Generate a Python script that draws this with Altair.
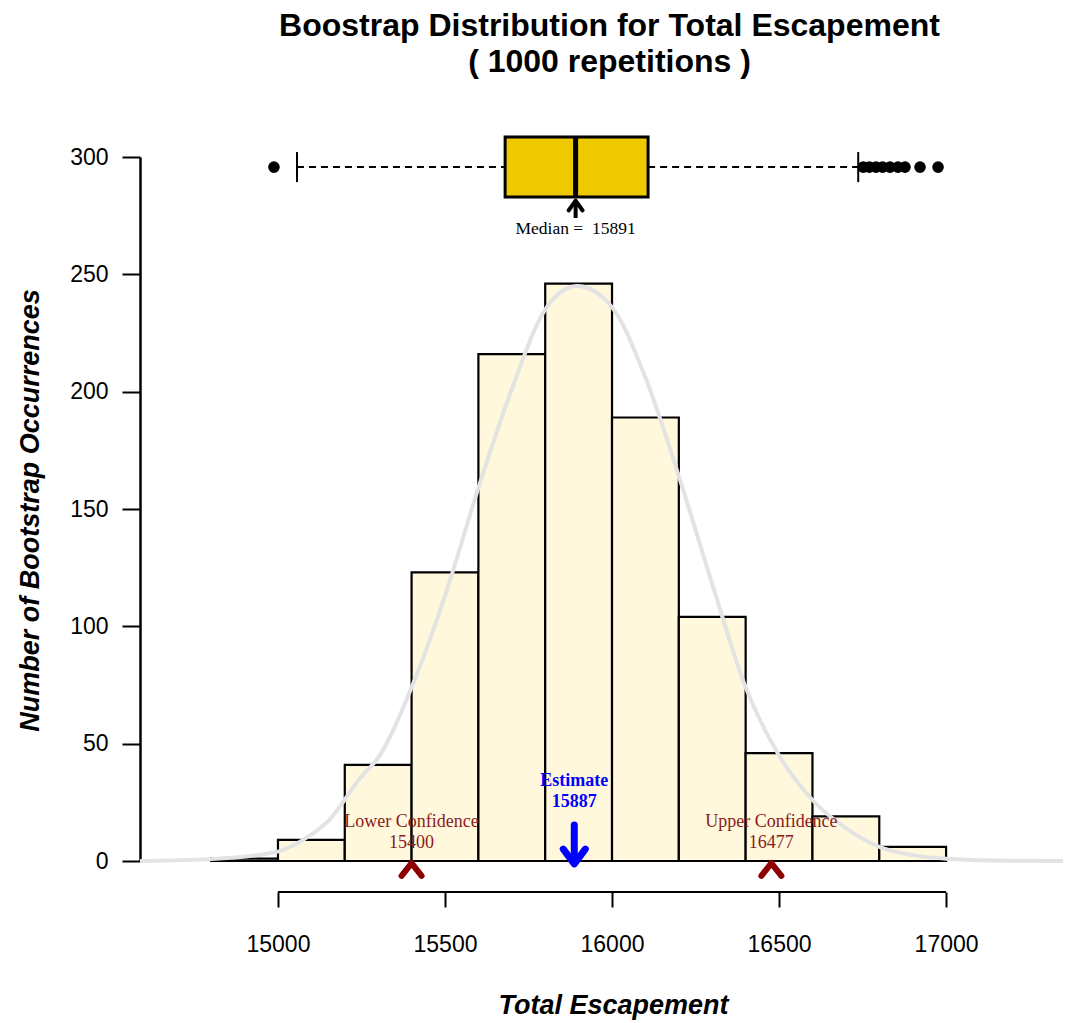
import altair as alt
import pandas as pd

# ---------------- data ----------------
bin_starts = [14800, 15000, 15200, 15400, 15600, 15800, 16000, 16200, 16400, 16600, 16800]
bin_ends = [15000, 15200, 15400, 15600, 15800, 16000, 16200, 16400, 16600, 16800, 17000]
counts = [1, 9, 41, 123, 216, 246, 189, 104, 46, 19, 6]

curve_x = [14587, 14800, 15000, 15075, 15150, 15250, 15300, 15400, 15500, 15600, 15700,
           15800, 15895, 16000, 16100, 16200, 16300, 16400, 16500, 16600, 16700, 16800,
           16900, 17000, 17200, 17350]
curve_y = [0, 0.8, 4, 9, 17, 36, 44, 74, 113, 159, 201, 235, 245, 236, 206, 164, 118, 74,
           45, 26, 14, 6, 2.5, 1, 0.1, 0]

box_q1, box_median, box_q3 = 15680, 15891, 16108
whisker_lo, whisker_hi = 15057, 16737
outliers = [14988, 16752, 16770, 16790, 16810, 16832, 16856, 16877, 16922, 16976]

estimate = 15887
lower_ci = 15400
upper_ci = 16477

x_ticks = [15000, 15500, 16000, 16500, 17000]
y_ticks = [0, 50, 100, 150, 200, 250, 300]

# ---------------- layout constants ----------------
BOX_Y, BOX_LO, BOX_HI = 295.7, 283.0, 308.5
CAP_LO, CAP_HI = 289.3, 302.1
XDOM = [14587, 17350]
YDOM = [0, 300]

xs = alt.Scale(domain=XDOM, nice=False, zero=False)
ys = alt.Scale(domain=YDOM, nice=False, zero=False)

SANS = "Liberation Sans"
SERIF = "Liberation Serif"

XAXIS = alt.Axis(values=x_ticks, offset=31, domain=False, grid=False,
                 tickSize=15, tickWidth=2, tickColor="black",
                 labelFont=SANS, labelFontSize=23, labelColor="black",
                 labelPadding=26, format="d",
                 title="Total Escapement", titleFont=SANS, titleFontSize=27,
                 titleFontWeight="bold", titleFontStyle="italic", titleColor="black",
                 titleX=473, titleY=113, titleAlign="center", titleBaseline="middle")
YAXIS = alt.Axis(values=y_ticks, domain=True, domainColor="black", domainWidth=2.5,
                 grid=False, tickSize=18, tickWidth=2, tickColor="black",
                 labelFont=SANS, labelFontSize=23, labelColor="black",
                 labelPadding=14,
                 title="Number of Bootstrap Occurrences", titleFont=SANS,
                 titleFontSize=27, titleFontWeight="bold", titleFontStyle="italic",
                 titleColor="black", titleAngle=270, titleX=-110, titleY=353,
                 titleAlign="center", titleBaseline="middle")


def X(field):
    return alt.X(field, scale=xs, axis=XAXIS)


def Y(field):
    return alt.Y(field, scale=ys, axis=YAXIS)


hist = pd.DataFrame({"start": bin_starts, "end": bin_ends, "count": counts,
                     "base": [0] * len(counts)})
curve = pd.DataFrame({"x": curve_x, "y": curve_y})

bars = alt.Chart(hist).mark_rect(fill="#FFF8DC", stroke="black", strokeWidth=2.2).encode(
    x=X("start:Q"), x2="end:Q", y=Y("count:Q"), y2="base:Q")

xaxis_line = alt.Chart(pd.DataFrame({"a": [x_ticks[0]], "b": [x_ticks[-1]], "y": [-13.2]})).mark_rule(
    color="black", strokeWidth=2).encode(x=X("a:Q"), x2="b:Q", y=Y("y:Q"))

line = alt.Chart(curve).mark_line(color="#E3E3E3", strokeWidth=4, interpolate="monotone").encode(
    x=X("x:Q"), y=Y("y:Q"))

# ---- boxplot ----
whisk = pd.DataFrame({"a": [whisker_lo, box_q3], "b": [box_q1, whisker_hi], "y": [BOX_Y, BOX_Y]})
whiskers = alt.Chart(whisk).mark_rule(color="black", strokeWidth=2, strokeDash=[7, 5]).encode(
    x=X("a:Q"), x2="b:Q", y=Y("y:Q"))

caps_df = pd.DataFrame({"x": [whisker_lo, whisker_hi], "lo": [CAP_LO] * 2, "hi": [CAP_HI] * 2})
caps = alt.Chart(caps_df).mark_rule(color="black", strokeWidth=2).encode(
    x=X("x:Q"), y=Y("lo:Q"), y2="hi:Q")

box_df = pd.DataFrame({"a": [box_q1], "b": [box_q3], "lo": [BOX_LO], "hi": [BOX_HI]})
box = alt.Chart(box_df).mark_rect(fill="#EEC900", stroke="black", strokeWidth=3).encode(
    x=X("a:Q"), x2="b:Q", y=Y("lo:Q"), y2="hi:Q")

med_df = pd.DataFrame({"x": [box_median], "lo": [BOX_LO], "hi": [BOX_HI]})
med = alt.Chart(med_df).mark_rule(color="black", strokeWidth=5).encode(
    x=X("x:Q"), y=Y("lo:Q"), y2="hi:Q")

out_df = pd.DataFrame({"x": outliers, "y": [BOX_Y] * len(outliers)})
outs = alt.Chart(out_df).mark_circle(color="black", size=135, opacity=1).encode(
    x=X("x:Q"), y=Y("y:Q"))

# median arrow (up)
marr_df = pd.DataFrame({"x": [box_median], "lo": [274.0], "hi": [281.0]})
marr_shaft = alt.Chart(marr_df).mark_rule(color="black", strokeWidth=4).encode(
    x=X("x:Q"), y=Y("lo:Q"), y2="hi:Q")
marr_head = alt.Chart(pd.DataFrame({"x": [box_median], "y": [279.3]})).mark_point(
    shape="M-1,0.7L0,-0.7L1,0.7", size=196, filled=False, stroke="black", strokeWidth=4,
    strokeCap="round", strokeJoin="round", opacity=1).encode(x=X("x:Q"), y=Y("y:Q"))
med_text = alt.Chart(pd.DataFrame({"x": [box_median], "y": [269.3],
                                   "t": [f"Median =\u00a0 {box_median}"]})).mark_text(
    font=SERIF, fontSize=17.5, color="black", baseline="middle", align="center").encode(
    x=X("x:Q"), y=Y("y:Q"), text="t:N")

# estimate (blue)
est_text = alt.Chart(pd.DataFrame({"x": [estimate, estimate], "y": [34.1, 25.1],
                                   "t": ["Estimate", str(estimate)]})).mark_text(
    font=SERIF, fontSize=18, fontWeight="bold", color="#0000FF", baseline="middle",
    align="center").encode(x=X("x:Q"), y=Y("y:Q"), text="t:N")
est_shaft = alt.Chart(pd.DataFrame({"x": [estimate], "lo": [0.5], "hi": [15.3]})).mark_rule(
    color="#0000FF", strokeWidth=7, strokeCap="round").encode(
    x=X("x:Q"), y=Y("lo:Q"), y2="hi:Q")
est_head = alt.Chart(pd.DataFrame({"x": [estimate], "y": [1.9]})).mark_point(
    shape="M-1,-0.67L0,0.67L1,-0.67", size=484, filled=False, stroke="#0000FF", strokeWidth=7,
    strokeCap="round", strokeJoin="round", opacity=1).encode(x=X("x:Q"), y=Y("y:Q"))

# confidence limits (dark red)
ci_text = alt.Chart(pd.DataFrame({
    "x": [lower_ci, lower_ci, upper_ci, upper_ci],
    "y": [16.6, 7.7, 16.6, 7.7],
    "t": ["Lower Confidence", str(lower_ci), "Upper Confidence", str(upper_ci)]})).mark_text(
    font=SERIF, fontSize=18, color="#8B1A1A", baseline="middle", align="center").encode(
    x=X("x:Q"), y=Y("y:Q"), text="t:N")
ci_caret = alt.Chart(pd.DataFrame({"x": [lower_ci, upper_ci], "y": [-3.6, -3.6]})).mark_point(
    shape="M-1,0.64L0,-0.64L1,0.64", size=400, filled=False, stroke="#8B0000", strokeWidth=6,
    strokeCap="round", strokeJoin="round", opacity=1).encode(x=X("x:Q"), y=Y("y:Q"))

chart = alt.layer(
    bars, xaxis_line, line, whiskers, caps, box, med, outs,
    marr_shaft, marr_head, med_text, est_text, est_shaft, est_head, ci_text, ci_caret
).properties(
    width=923, height=704,
    title=alt.TitleParams(
        text=["Boostrap Distribution for Total Escapement", "( 1000  repetitions )"],
        font=SANS, fontSize=32, fontWeight="bold", color="black", anchor="middle",
        lineHeight=36, offset=24, dx=8, baseline="bottom"),
    autosize=alt.AutoSizeParams(type="none"),
    padding={"left": 132, "top": 149, "right": 5, "bottom": 160},
).configure(background="white", view=alt.ViewConfig(stroke=None))

chart.save("out.html", embed_options={"renderer": "svg", "actions": False})
